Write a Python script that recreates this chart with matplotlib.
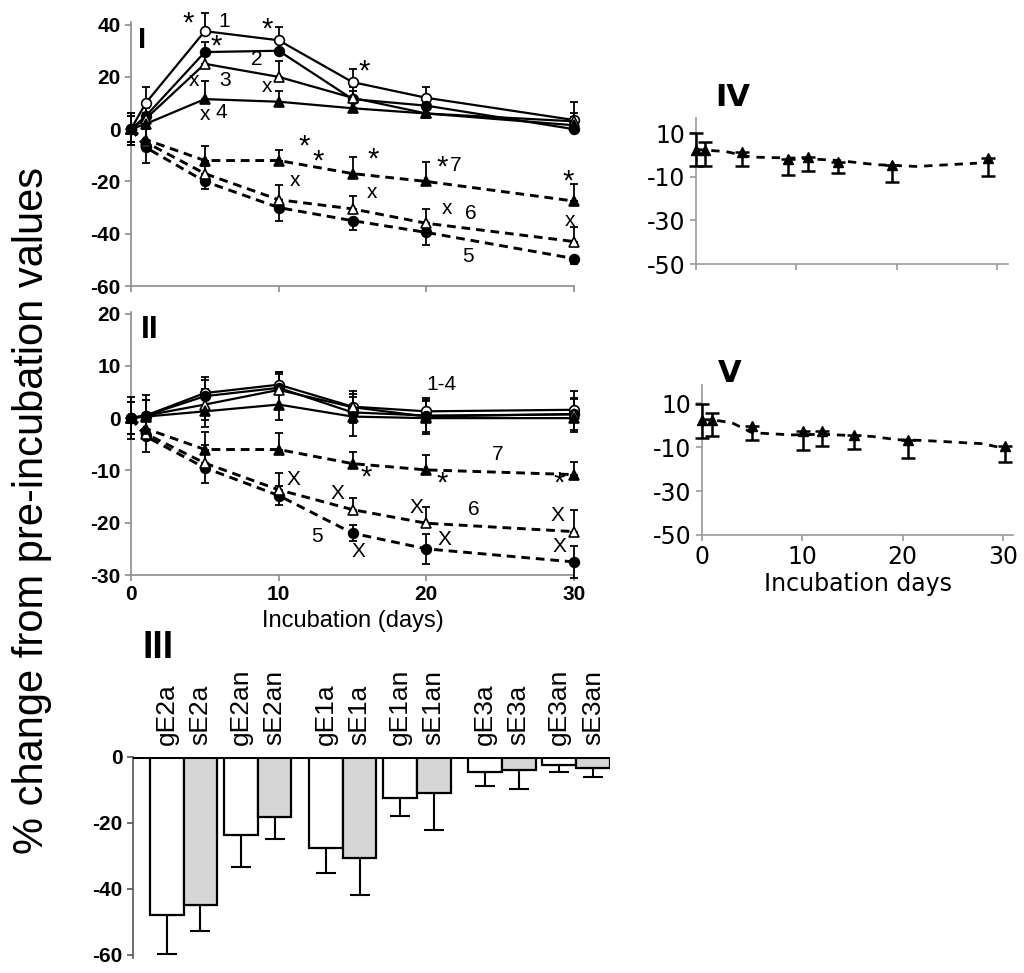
import numpy as np
import matplotlib
matplotlib.use("Agg")
import matplotlib.pyplot as plt

plt.rcParams.update({
    "font.family": ["Liberation Sans", "DejaVu Sans"],
    "font.size": 13,
    "axes.linewidth": 1.2,
    "axes.unicode_minus": False,
})

# ---------------- data ----------------
days = [0, 1, 5, 10, 15, 20, 30]

# panel I  (series 1-4 solid, 5-7 dashed)
p1_s1 = [0, 10, 37.5, 34, 18, 12, 3.5]
p1_s2 = [0, 5, 29.5, 30, 11.5, 9, 0]
p1_s3 = [0, 4, 25, 20, 12, 6, 3]
p1_s4 = [0, 2, 11.5, 10.5, 8, 6, 1.5]
p1_s5 = [0, -7, -20, -30, -35, -39.5, -49.5]
p1_s6 = [0, -5, -17, -27, -30.5, -36, -43]
p1_s7 = [0, -4, -12, -12, -17, -20, -27.5]
p1_e1 = [6, 6, 7, 5, 5, 4, 7]
p1_e2 = [5, 4, 4, 4, 3, 3, 3]
p1_e3 = [5, 4, 4, 6, 4, 3, 3]
p1_e4 = [5, 4, 7, 4, 3, 3, 3]
p1_e5 = [6, 6, 3, 5, 3.5, 5, 2]
p1_e6 = [6, 5, 3, 5.5, 5, 5.5, 5.5]
p1_e7 = [6, 8, 5.7, 4.2, 6.5, 7.5, 6.5]

# panel II
p2_s1 = [0, 0.5, 4.8, 6.4, 2.2, 1.3, 1.6]
p2_s2 = [0, 0.5, 4.2, 5.8, 1.1, 0.5, 0.7]
p2_s3 = [0, 0.5, 2.6, 5.4, 2.1, 0.3, 0.8]
p2_s4 = [0, 0.3, 1.3, 2.6, 0.3, 0, 0]
p2_s5 = [0, -3.5, -9.5, -14.8, -22, -25, -27.5]
p2_s6 = [0, -3, -8.6, -13.7, -17.5, -20.1, -21.7]
p2_s7 = [0, -2, -6, -6, -8.7, -9.9, -10.8]
p2_e1 = [4, 4, 3, 2.5, 2.5, 2.5, 3.5]
p2_e2 = [3, 3, 3, 3, 3, 3, 3]
p2_e3 = [3, 3, 3, 3, 3, 3, 3]
p2_e4 = [3, 3, 3, 3, 3.8, 3, 2.7]
p2_e5 = [3, 3, 3, 1.9, 1.5, 2.9, 3]
p2_e6 = [3, 4, 3.5, 3.3, 2.3, 3.2, 4.2]
p2_e7 = [3, 3, 3.3, 3.2, 2.3, 2.8, 2.4]

# panel III
bar_labels = ["gE2a", "sE2a", "gE2an", "sE2an", "gE1a", "sE1a",
              "gE1an", "sE1an", "gE3a", "sE3a", "gE3an", "sE3an"]
bar_values = [-48, -45, -23.7, -18.3, -27.7, -30.7,
              -12.3, -10.8, -4.7, -4.0, -2.5, -3.2]
bar_errors = [11.8, 7.7, 9.8, 6.7, 7.4, 11.3, 5.5, 11.4, 4.1, 5.8, 2.0, 2.8]

# panel IV
p4_days = [0, 0.9, 4.6, 9.2, 11.2, 14.2, 19.5, 29.1]
p4_vals = [2.3, 2.3, 1.1, -2, -1, -3.3, -4.5, -1.5]
p4_err_lo = [7.6, 7.2, 6.4, 7.1, 6.3, 5.1, 8.0, 8.1]
p4_err_hi = [7.7, 3.6, 0, 0, 0, 0, 0, 0]
p4_trend_days = [0, 3, 5.5, 10, 14, 18, 22, 28]
p4_trend_vals = [2.5, 1.5, -1, -1.5, -2.5, -4.5, -5.3, -3.8]

# panel V
p5_days = [0, 1, 5, 10.1, 12, 15.2, 20.5, 30.2]
p5_vals = [2.4, 2.4, -0.3, -2.9, -2.6, -4.7, -7, -9.5]
p5_err_lo = [8.4, 7.6, 6.4, 8.3, 7.1, 6.1, 8.0, 7.3]
p5_err_hi = [7.1, 3.0, 0, 0, 0, 0, 0, 0]
p5_trend_days = [0, 1, 3, 5, 9, 12, 15, 17, 19.5, 22, 28, 30]
p5_trend_vals = [2.4, 2.4, 1, -3.5, -4.5, -4.2, -4.8, -5.2, -6.7, -7, -8.5, -10.5]

# annotations (x, y, text)
p1_notes = [(3.9, 40.5, "*"), (6.3, 41, "1"), (9.2, 38, "*"), (5.8, 31.5, "*"),
            (8.5, 26.5, "2"), (4.3, 18.5, "x"), (6.4, 18.5, "3"), (9.2, 16.5, "x"),
            (15.8, 22, "*"), (5.0, 5.5, "x"), (6.1, 6.2, "4"),
            (11.7, -6.5, "*"), (12.7, -12.5, "*"), (16.4, -11.5, "*"),
            (21.1, -14.5, "*"), (22.0, -14, "7"),
            (11.1, -19.5, "x"), (16.3, -24.2, "x"), (21.4, -30.4, "x"), (23.0, -32.3, "6"),
            (22.8, -48.8, "5"), (29.6, -19.9, "*"), (29.7, -34.8, "x")]
p2_notes = [(21.0, 6.4, "1-4"), (24.8, -7.0, "7"), (15.9, -11.3, "*"), (21.1, -12.5, "*"),
            (29.0, -12.5, "*"), (11.0, -11.8, "X"), (14.0, -14.4, "X"), (19.3, -17.0, "X"),
            (23.2, -17.5, "6"), (28.9, -18.6, "X"), (12.6, -22.7, "5"), (15.4, -25.5, "X"),
            (21.2, -23.3, "X"), (29.0, -24.6, "X")]

# ---------------- layout helpers ----------------
W, H = 1024, 973
fig = plt.figure(figsize=(W / 100, H / 100), dpi=100)


def box(x0, x1, ytop, ybot):
    return [x0 / W, 1 - ybot / H, (x1 - x0) / W, (ybot - ytop) / H]


def style_axes(ax, spine="#8c8c8c"):
    for s in ["top", "right"]:
        ax.spines[s].set_visible(False)
    for s in ["left", "bottom"]:
        ax.spines[s].set_color(spine)
    ax.tick_params(color=spine, direction="out", length=4, width=1.2)


def draw_series(ax, y, e, marker, filled, dashed, side):
    e = np.asarray(e, dtype=float)
    lo = e * (side in ("down", "both"))
    hi = e * (side in ("up", "both"))
    lo[0] = e[0]
    hi[0] = e[0]
    ax.errorbar(days, y, yerr=[lo, hi], fmt="none", ecolor="black",
                elinewidth=1.3, capsize=3, capthick=1.3, clip_on=False, zorder=3)
    ax.plot(days, y, color="black", lw=2.1 if dashed else 1.6,
            ls=(0, (3, 2)) if dashed else "-", marker=marker, ms=7,
            mfc="black" if filled else "white", mec="black", mew=1.2,
            clip_on=False, zorder=4)


def timecourse(ax, series, notes, ylim, yticks):
    for y, e, m, f, d, side in series:
        draw_series(ax, y, e, m, f, d, side)
    ax.set_xlim(0, 30)
    ax.set_ylim(*ylim)
    ax.set_yticks(yticks, labels=[str(t) for t in yticks], fontweight="bold", fontsize=15)
    for x, y, t in notes:
        ax.text(x, y, t, fontsize=21 if t == "*" else 15, ha="center",
                va="center", zorder=5)
    style_axes(ax)


# ---------------- panel I ----------------
ax1 = fig.add_axes(box(131, 574, 22, 286))
timecourse(ax1, [
    (p1_s1, p1_e1, "o", False, False, "up"),
    (p1_s2, p1_e2, "o", True, False, "up"),
    (p1_s3, p1_e3, "^", False, False, "up"),
    (p1_s4, p1_e4, "^", True, False, "up"),
    (p1_s5, p1_e5, "o", True, True, "down"),
    (p1_s6, p1_e6, "^", False, True, "up"),
    (p1_s7, p1_e7, "^", True, True, "up"),
], p1_notes, (-60, 41), [40, 20, 0, -20, -40, -60])
ax1.set_xticks([0, 10, 20, 30], labels=[])
fig.text(142 / W, 1 - 40 / H, "I", fontsize=21, fontweight="bold", ha="center", va="center")

# ---------------- panel II ----------------
ax2 = fig.add_axes(box(131, 574, 312, 575))
timecourse(ax2, [
    (p2_s1, p2_e1, "o", False, False, "up"),
    (p2_s2, p2_e2, "o", True, False, "up"),
    (p2_s3, p2_e3, "^", False, False, "both"),
    (p2_s4, p2_e4, "^", True, False, "down"),
    (p2_s5, p2_e5, "o", True, True, "both"),
    (p2_s6, p2_e6, "^", False, True, "up"),
    (p2_s7, p2_e7, "^", True, True, "up"),
], p2_notes, (-30, 20.3), [20, 10, 0, -10, -20, -30])
ax2.set_xticks([0, 10, 20, 30], labels=["0", "10", "20", "30"], fontweight="bold", fontsize=15)
ax2.set_xlabel("Incubation (days)", fontsize=17, labelpad=4)
fig.text(150 / W, 1 - 330 / H, "II", fontsize=23, fontweight="bold", ha="center", va="center")

# ---------------- panel III ----------------
ax3 = fig.add_axes(box(133, 610, 757, 958))
pos = []
x = 0.0
for i in range(len(bar_labels)):
    pos.append(x)
    x += 1.0
    if i % 4 == 3:
        x += 0.52
    elif i % 2 == 1:
        x += 0.2
colors = ["white" if lab.startswith("g") else "#d6d6d6" for lab in bar_labels]
ax3.bar(pos, bar_values, width=1.0, align="edge", color=colors,
        edgecolor="black", linewidth=1.6, zorder=2)
ax3.errorbar(np.array(pos) + 0.5, bar_values, yerr=[bar_errors, np.zeros(len(bar_errors))],
             fmt="none", ecolor="black", elinewidth=1.5, capsize=7, capthick=1.5, zorder=1)
ax3.axhline(0, color="black", lw=2.2, zorder=3)
for p, lab in zip(pos, bar_labels):
    ax3.text(p + 0.5, 3.5, lab, rotation=90, ha="center", va="bottom",
             fontsize=19, clip_on=False)
ax3.set_xlim(-0.5, 13.65)
ax3.set_ylim(-61, 0)
ax3.set_yticks([0, -20, -40, -60], labels=["0", "-20", "-40", "-60"],
               fontweight="bold", fontsize=15)
ax3.set_xticks([])
style_axes(ax3, spine="#555555")
ax3.spines["bottom"].set_visible(False)
fig.text(158 / W, 1 - 648 / H, "III", fontsize=27, fontweight="bold", ha="center", va="center")

# ---------------- panels IV and V ----------------
def side_panel(ax, d, v, lo, hi, td, tv, xmax, ymax, show_x):
    ax.plot(td, tv, color="black", lw=2.0, ls=(0, (3, 2.5)), zorder=2)
    ax.errorbar(d, v, yerr=[lo, hi], fmt="none", ecolor="black", elinewidth=1.8,
                capsize=5, capthick=1.8, clip_on=False, zorder=3)
    ax.plot(d, v, ls="none", marker="^", ms=7, color="black", clip_on=False, zorder=4)
    ax.set_xlim(0, xmax)
    ax.set_ylim(-50, ymax)
    ax.set_yticks([10, -10, -30, -50], labels=["10", "-10", "-30", "-50"],
                  fontsize=17, family="DejaVu Sans")
    xt = [0, 10, 20, 30]
    ax.set_xticks(xt, labels=[str(t) for t in xt] if show_x else [],
                  fontsize=17, family="DejaVu Sans")
    style_axes(ax, spine="#9a9a9a")


ax4 = fig.add_axes(box(696, 1008, 118, 264))
side_panel(ax4, p4_days, p4_vals, p4_err_lo, p4_err_hi, p4_trend_days, p4_trend_vals,
           31.1, 16.9, False)
fig.text(733 / W, 1 - 98 / H, "IV", fontsize=22, fontweight="bold", ha="center",
         va="center", family="DejaVu Sans")

ax5 = fig.add_axes(box(702, 1013, 385, 535))
side_panel(ax5, p5_days, p5_vals, p5_err_lo, p5_err_hi, p5_trend_days, p5_trend_vals,
           31.0, 18.2, True)
ax5.set_xlabel("Incubation days", fontsize=17, family="DejaVu Sans", labelpad=2)
fig.text(730 / W, 1 - 373 / H, "V", fontsize=22, fontweight="bold", ha="center",
         va="center", family="DejaVu Sans")

# shared y label
fig.text(32 / W, 1 - 510 / H, "% change from pre-incubation values", rotation=90,
         ha="center", va="center", fontsize=30)

fig.savefig("out.png", dpi=100)
